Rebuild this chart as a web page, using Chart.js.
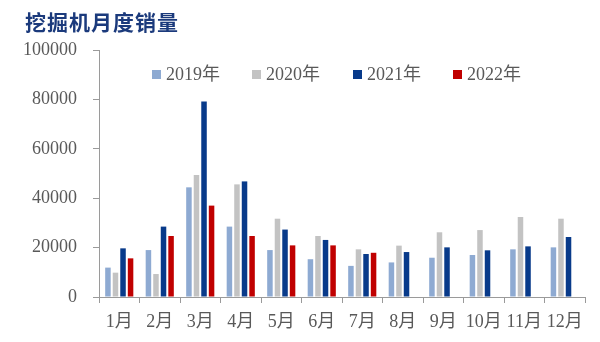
<!DOCTYPE html>
<html><head><meta charset="utf-8">
<script src="https://cdn.jsdelivr.net/npm/chart.js@4.4.1/dist/chart.umd.min.js"></script>
<style>
html,body{margin:0;padding:0;background:#fff;}
#wrap{position:relative;width:600px;height:342px;}
#title{position:absolute;left:25px;top:6px;font-family:"Noto Sans CJK SC";font-weight:700;font-size:21px;color:#1b3a7c;letter-spacing:1px;white-space:nowrap;}
#legend{position:absolute;top:62px;left:0;width:600px;height:24px;}
.li{position:absolute;top:0;font-family:"Liberation Serif","Noto Sans CJK SC";font-size:18px;color:#595959;line-height:24px;white-space:nowrap;}
.li span{display:inline-block;width:9px;height:9px;margin-right:5px;vertical-align:1px;}
canvas{position:absolute;left:0;top:0;}
</style></head>
<body><div id="wrap">
<canvas id="c" width="600" height="342"></canvas>
<div id="title">挖掘机月度销量</div>
<div id="legend"></div>
</div>
<script>
const categories = ["1月","2月","3月","4月","5月","6月","7月","8月","9月","10月","11月","12月"];
const seriesNames = ["2019年","2020年","2021年","2022年"];
const s2019 = [11900,19000,44400,28500,19000,15300,12600,14000,15900,17000,19300,20100];
const s2020 = [9850,9300,49400,45600,31700,24700,19300,20800,26200,27100,32400,31700];
const s2021 = [19700,28500,79100,46800,27300,23100,17400,18200,20100,18900,20500,24300];
const s2022 = [15650,24700,37000,24700,20900,20900,17900,null,null,null,null,null];
const yTicks = [0,20000,40000,60000,80000,100000];
const colors = ["#8eaad2","#c3c3c3","#083a8a","#c00000"];
const seriesData = [s2019,s2020,s2021,s2022];

const legendX = [152,252,353,453];
const lg = document.getElementById('legend');
seriesNames.forEach((n,i)=>{
  const d=document.createElement('div');d.className='li';d.style.left=legendX[i]+'px';
  d.innerHTML='<span style="background:'+colors[i]+'"></span>'+n;lg.appendChild(d);
});

new Chart(document.getElementById('c'),{
  type:'bar',
  data:{labels:categories,datasets:seriesNames.map((n,i)=>({label:n,data:seriesData[i],backgroundColor:colors[i],borderWidth:0,categoryPercentage:0.745,barPercentage:0.73}))},
  options:{
    responsive:false,animation:false,
    layout:{padding:{top:50,right:15,bottom:0,left:0}},
    plugins:{legend:{display:false},title:{display:false},tooltip:{enabled:false}},
    scales:{
      x:{
        grid:{drawOnChartArea:false,drawTicks:true,tickLength:6,color:'#9a9a9a',offset:true},
        border:{color:'#9a9a9a',width:1},
        ticks:{font:{family:'"Liberation Serif","Noto Sans CJK SC"',size:18},color:'#595959',padding:8,maxRotation:0,autoSkip:false},
        afterFit:(s)=>{s.height=45;}
      },
      y:{
        min:0,max:100000,
        afterBuildTicks:(s)=>{s.ticks=yTicks.map(v=>({value:v}));},
        grid:{drawOnChartArea:false,drawTicks:true,tickLength:6,color:'#9a9a9a'},
        border:{color:'#9a9a9a',width:1},
        ticks:{font:{family:'"Liberation Serif"',size:18},color:'#595959',padding:16,callback:(v)=>String(v)},
        afterFit:(s)=>{s.width=99;}
      }
    }
  }
});
</script>
</body></html>
